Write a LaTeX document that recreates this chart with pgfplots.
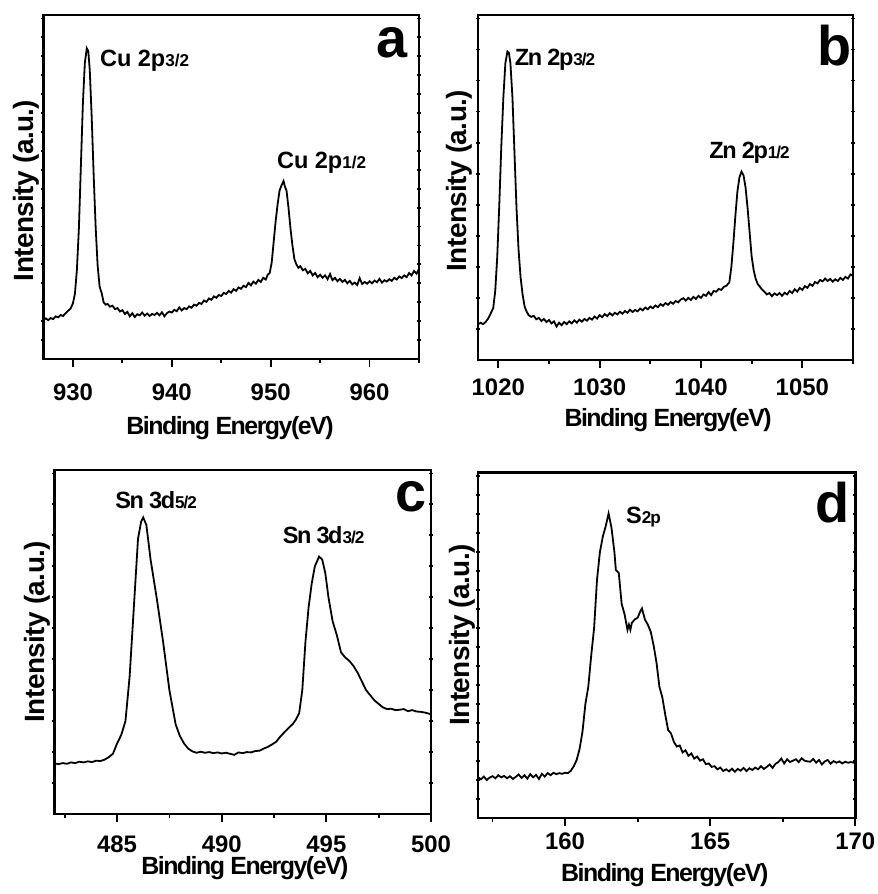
\documentclass[border=0pt]{standalone}
\usepackage{fontspec}
\setmainfont{Liberation Sans}
\newfontfamily\tight[LetterSpace=-6]{Liberation Sans}
\newfontfamily\semitight[LetterSpace=-2]{Liberation Sans}
\usepackage{pgfplots}
\pgfplotsset{compat=1.18}

% shared look of the four XPS panels
\pgfplotsset{
  xps/.style={
    scale only axis, anchor=south west,
    ymin=0, ymax=1,
    axis line style={line width=1.2bp},
    major tick length=4bp, minor tick length=2bp,
    tick style={line width=0.9bp, black},
    xtick align=outside, xtick pos=bottom,
    ytick={2}, ytick align=center, ytick pos=both,
    scaled x ticks=false,
    /pgf/number format/1000 sep={},
    /pgf/number format/assume math mode=true,
    ticklabel style={font=\bfseries\fontsize{12}{12}\selectfont},
    xlabel={Binding Energy(eV)},
    ylabel={Intensity (a.u.)},
    xlabel style={font=\tight\bfseries\fontsize{12.5}{13}\selectfont, anchor=north},
    ylabel style={font=\semitight\bfseries\fontsize{14}{14}\selectfont, anchor=base, inner sep=0pt},
  },
}
\tikzset{
  sp/.style={black, line width=0.9bp, mark=none},
  pk/.style={anchor=base west, inner sep=0pt, font=\bfseries\fontsize{11.8}{12}\selectfont},
  pkt/.style={anchor=base west, inner sep=0pt, font=\tight\bfseries\fontsize{11.8}{12}\selectfont},
  tag/.style={anchor=base east, inner sep=0pt, font=\bfseries\fontsize{28}{28}\selectfont},
}
\newcommand{\lo}[1]{{\fontsize{8.6}{9}\selectfont #1}}

\begin{document}
\begin{tikzpicture}
\path[use as bounding box] (0,0) rectangle (439bp,447bp);

% ---------- a: Cu 2p
\begin{axis}[xps, at={(21.65bp,267.5bp)}, width=187.85bp, height=172bp,
  xmin=927, xmax=965, xtick={930,940,950,960}, minor xtick={935,945,955,965},
  minor ytick={0.055,0.11,...,0.99},
  xticklabel style={yshift=-5bp},
  xlabel style={at={(axis description cs:0.497,-0.148)}},
  ylabel style={at={(axis description cs:-0.027,0.49)}}]
\addplot[sp] coordinates {
(927.0,0.112) (927.25,0.118) (927.5,0.113) (927.75,0.119) (928.0,0.116) (928.25,0.124)
(928.5,0.121) (928.75,0.128) (929.0,0.125) (929.25,0.133) (929.5,0.14) (929.75,0.146)
(930.0,0.162) (930.2,0.19) (930.4,0.26) (930.6,0.38) (930.8,0.56) (931.0,0.74)
(931.2,0.86) (931.4,0.903) (931.55,0.895) (931.7,0.84) (931.9,0.7) (932.1,0.53)
(932.3,0.38) (932.5,0.27) (932.7,0.21) (932.9,0.192) (933.1,0.165) (933.3,0.158)
(933.5,0.16) (933.75,0.152) (934.0,0.155) (934.25,0.145) (934.5,0.148) (934.75,0.138)
(935.0,0.142) (935.25,0.131) (935.5,0.137) (935.75,0.124) (936.0,0.133) (936.25,0.122)
(936.5,0.13) (936.75,0.127) (937.0,0.135) (937.25,0.126) (937.5,0.132) (937.75,0.125)
(938.0,0.131) (938.25,0.128) (938.5,0.134) (938.75,0.127) (939.0,0.136) (939.25,0.124)
(939.5,0.133) (939.75,0.138) (940.0,0.135) (940.25,0.143) (940.5,0.139) (940.75,0.15)
(941.0,0.141) (941.25,0.148) (941.5,0.145) (941.75,0.153) (942.0,0.149) (942.25,0.158)
(942.5,0.155) (942.75,0.163) (943.0,0.16) (943.25,0.17) (943.5,0.166) (943.75,0.176)
(944.0,0.172) (944.25,0.182) (944.5,0.178) (944.75,0.186) (945.0,0.183) (945.25,0.192)
(945.5,0.189) (945.75,0.198) (946.0,0.193) (946.25,0.203) (946.5,0.198) (946.75,0.208)
(947.0,0.204) (947.25,0.213) (947.5,0.209) (947.75,0.221) (948.0,0.214) (948.25,0.225)
(948.5,0.219) (948.75,0.23) (949.0,0.224) (949.25,0.236) (949.5,0.231) (949.7,0.245)
(949.9,0.25) (950.1,0.28) (950.3,0.34) (950.5,0.4) (950.7,0.45) (950.9,0.49)
(951.1,0.505) (951.3,0.517) (951.45,0.5) (951.6,0.49) (951.8,0.44) (952.0,0.38)
(952.2,0.33) (952.4,0.29) (952.6,0.275) (952.8,0.265) (953.0,0.27) (953.25,0.258)
(953.5,0.262) (953.75,0.249) (954.0,0.256) (954.25,0.243) (954.5,0.25) (954.75,0.238)
(955.0,0.245) (955.25,0.236) (955.5,0.243) (955.75,0.232) (956.0,0.247) (956.25,0.229)
(956.5,0.236) (956.75,0.226) (957.0,0.233) (957.25,0.224) (957.5,0.23) (957.75,0.22)
(958.0,0.227) (958.25,0.217) (958.5,0.222) (958.75,0.215) (959.0,0.235) (959.25,0.218)
(959.5,0.224) (959.75,0.219) (960.0,0.226) (960.25,0.22) (960.5,0.228) (960.75,0.223)
(961.0,0.233) (961.25,0.222) (961.5,0.229) (961.75,0.225) (962.0,0.232) (962.25,0.227)
(962.5,0.236) (962.75,0.231) (963.0,0.24) (963.25,0.235) (963.5,0.243) (963.75,0.238)
(964.0,0.25) (964.25,0.243) (964.5,0.256) (964.75,0.248) (965.0,0.262)};
\node[pk] at (axis cs:932.7,0.85) {Cu 2p\lo{3/2}};
\node[pk] at (axis cs:950.6,0.554) {Cu 2p\lo{1/2}};
\node[tag] at (axis description cs:0.97,0.875) {a};
\end{axis}

% ---------- b: Zn 2p
\begin{axis}[xps, at={(239bp,267bp)}, width=187.5bp, height=172.5bp,
  xmin=1018, xmax=1055, xtick={1020,1030,1040,1050}, minor xtick={1025,1035,1045,1055},
  minor ytick={0.09,0.18,...,0.99},
  xticklabel style={yshift=-2bp},
  xlabel style={at={(axis description cs:0.507,-0.12)}},
  ylabel style={at={(axis description cs:-0.032,0.52)}}]
\addplot[sp] coordinates {
(1018.0,0.103) (1018.25,0.108) (1018.5,0.104) (1018.75,0.11) (1019.0,0.12) (1019.25,0.135)
(1019.5,0.15) (1019.7,0.2) (1019.9,0.3) (1020.1,0.45) (1020.3,0.62) (1020.5,0.76)
(1020.7,0.86) (1020.9,0.894) (1021.05,0.89) (1021.2,0.86) (1021.4,0.76) (1021.6,0.6)
(1021.8,0.44) (1022.0,0.32) (1022.2,0.24) (1022.4,0.19) (1022.6,0.155) (1022.8,0.14)
(1023.0,0.13) (1023.25,0.125) (1023.5,0.128) (1023.75,0.118) (1024.0,0.122) (1024.25,0.113)
(1024.5,0.119) (1024.75,0.11) (1025.0,0.116) (1025.25,0.106) (1025.5,0.112) (1025.75,0.097)
(1026.0,0.108) (1026.25,0.101) (1026.5,0.11) (1026.75,0.104) (1027.0,0.112) (1027.25,0.106)
(1027.5,0.115) (1027.75,0.108) (1028.0,0.117) (1028.25,0.111) (1028.5,0.119) (1028.75,0.114)
(1029.0,0.122) (1029.25,0.117) (1029.5,0.126) (1029.75,0.12) (1030.0,0.13) (1030.25,0.124)
(1030.5,0.133) (1030.75,0.127) (1031.0,0.136) (1031.25,0.129) (1031.5,0.137) (1031.75,0.132)
(1032.0,0.14) (1032.25,0.134) (1032.5,0.142) (1032.75,0.137) (1033.0,0.146) (1033.25,0.139)
(1033.5,0.145) (1033.75,0.141) (1034.0,0.149) (1034.25,0.144) (1034.5,0.152) (1034.75,0.147)
(1035.0,0.155) (1035.25,0.15) (1035.5,0.158) (1035.75,0.153) (1036.0,0.162) (1036.25,0.157)
(1036.5,0.165) (1036.75,0.16) (1037.0,0.168) (1037.25,0.163) (1037.5,0.171) (1037.75,0.167)
(1038.0,0.175) (1038.25,0.179) (1038.5,0.172) (1038.75,0.18) (1039.0,0.174) (1039.25,0.183)
(1039.5,0.177) (1039.75,0.186) (1040.0,0.18) (1040.25,0.19) (1040.5,0.186) (1040.75,0.197)
(1041.0,0.188) (1041.25,0.2) (1041.5,0.198) (1041.75,0.206) (1042.0,0.203) (1042.25,0.212)
(1042.5,0.215) (1042.8,0.225) (1043.0,0.27) (1043.2,0.34) (1043.4,0.42) (1043.6,0.49)
(1043.8,0.53) (1044.0,0.546) (1044.2,0.535) (1044.4,0.5) (1044.6,0.44) (1044.8,0.37)
(1045.0,0.3) (1045.2,0.26) (1045.4,0.235) (1045.6,0.22) (1045.8,0.213) (1046.0,0.205)
(1046.25,0.198) (1046.5,0.19) (1046.75,0.194) (1047.0,0.185) (1047.25,0.193) (1047.5,0.188)
(1047.75,0.194) (1048.0,0.186) (1048.25,0.195) (1048.5,0.19) (1048.75,0.2) (1049.0,0.194)
(1049.25,0.205) (1049.5,0.198) (1049.75,0.209) (1050.0,0.203) (1050.25,0.214) (1050.5,0.209)
(1050.75,0.22) (1051.0,0.215) (1051.25,0.226) (1051.5,0.222) (1051.75,0.232) (1052.0,0.228)
(1052.25,0.236) (1052.5,0.229) (1052.75,0.235) (1053.0,0.227) (1053.25,0.234) (1053.5,0.229)
(1053.75,0.238) (1054.0,0.232) (1054.25,0.241) (1054.5,0.236) (1054.75,0.248) (1055.0,0.244)};
\node[pkt] at (axis cs:1021.6,0.855) {Zn 2p\lo{3/2}};
\node[pkt] at (axis cs:1040.8,0.585) {Zn 2p\lo{1/2}};
\node[tag] at (axis description cs:0.997,0.855) {b};
\end{axis}

% ---------- c: Sn 3d
\begin{axis}[xps, at={(27.15bp,40bp)}, width=188.35bp, height=172bp,
  xmin=482, xmax=500, xtick={485,490,495,500}, minor xtick={482.5,487.5,492.5,497.5},
  minor ytick={0.09,0.18,...,0.99},
  xticklabel style={yshift=-3.5bp},
  xlabel style={at={(axis description cs:0.506,-0.103)}},
  ylabel style={at={(axis description cs:-0.025,0.53)}}]
\addplot[sp] coordinates {
(482.0,0.147) (482.2,0.145) (482.4,0.148) (482.6,0.146) (482.8,0.15) (483.0,0.148)
(483.2,0.152) (483.4,0.15) (483.6,0.153) (483.8,0.151) (484.0,0.155) (484.2,0.154)
(484.4,0.158) (484.6,0.165) (484.8,0.175) (485.0,0.205) (485.2,0.23) (485.4,0.27)
(485.6,0.4) (485.8,0.6) (486.0,0.8) (486.15,0.85) (486.25,0.862) (486.4,0.84)
(486.6,0.74) (486.9,0.625) (487.2,0.5) (487.5,0.36) (487.8,0.26) (488.0,0.227)
(488.2,0.205) (488.4,0.19) (488.6,0.182) (488.8,0.178) (489.0,0.181) (489.2,0.178)
(489.4,0.18) (489.6,0.177) (489.8,0.179) (490.0,0.176) (490.2,0.178) (490.4,0.175)
(490.6,0.172) (490.8,0.179) (491.0,0.177) (491.2,0.18) (491.4,0.179) (491.6,0.183)
(491.8,0.184) (492.0,0.19) (492.2,0.195) (492.4,0.202) (492.6,0.21) (492.8,0.225)
(493.0,0.238) (493.2,0.25) (493.4,0.262) (493.55,0.275) (493.7,0.293) (493.85,0.36)
(494.0,0.5) (494.15,0.6) (494.3,0.67) (494.45,0.72) (494.65,0.748) (494.8,0.74)
(494.95,0.7) (495.1,0.63) (495.3,0.56) (495.5,0.52) (495.7,0.47) (495.9,0.455)
(496.1,0.445) (496.3,0.43) (496.5,0.41) (496.7,0.385) (496.9,0.36) (497.1,0.345)
(497.3,0.33) (497.5,0.32) (497.7,0.31) (497.9,0.305) (498.1,0.306) (498.3,0.302)
(498.5,0.303) (498.7,0.305) (498.9,0.299) (499.1,0.302) (499.3,0.298) (499.5,0.297)
(499.7,0.295) (500.0,0.29)};
\node[pkt] at (axis cs:484.9,0.889) {Sn 3d\lo{5/2}};
\node[pkt] at (axis cs:492.9,0.785) {Sn 3d\lo{3/2}};
\node[tag] at (axis description cs:0.989,0.878) {c};
\end{axis}

% ---------- d: S 2p
\begin{axis}[xps, at={(239bp,38bp)}, width=188.65bp, height=172.65bp,
  xmin=157, xmax=170, xtick={160,165,170}, minor xtick={157.5,162.5,167.5},
  minor ytick={0.055,0.11,...,0.99},
  xlabel style={at={(axis description cs:0.495,-0.11)}},
  ylabel style={at={(axis description cs:-0.022,0.53)}}]
\addplot[sp] coordinates {
(157.0,0.118) (157.1,0.112) (157.2,0.12) (157.3,0.11) (157.4,0.117) (157.5,0.121)
(157.6,0.115) (157.7,0.124) (157.8,0.118) (157.9,0.122) (158.0,0.115) (158.1,0.121)
(158.2,0.113) (158.3,0.119) (158.4,0.126) (158.5,0.116) (158.6,0.124) (158.7,0.114)
(158.8,0.127) (158.9,0.118) (159.0,0.125) (159.1,0.113) (159.2,0.128) (159.3,0.12)
(159.4,0.13) (159.5,0.124) (159.6,0.131) (159.7,0.127) (159.8,0.13) (159.9,0.128)
(160.0,0.131) (160.1,0.13) (160.2,0.137) (160.3,0.15) (160.4,0.168) (160.5,0.2)
(160.6,0.25) (160.7,0.33) (160.8,0.38) (160.9,0.47) (161.0,0.55) (161.1,0.69)
(161.2,0.77) (161.3,0.815) (161.4,0.845) (161.5,0.882) (161.6,0.84) (161.7,0.77)
(161.75,0.718) (161.85,0.71) (161.95,0.62) (162.05,0.59) (162.15,0.545) (162.2,0.56)
(162.25,0.545) (162.3,0.565) (162.4,0.575) (162.5,0.58) (162.6,0.6) (162.65,0.607)
(162.75,0.575) (162.85,0.56) (162.95,0.54) (163.05,0.5) (163.15,0.45) (163.25,0.38)
(163.35,0.35) (163.45,0.3) (163.55,0.255) (163.65,0.245) (163.75,0.22) (163.85,0.207)
(163.95,0.21) (164.05,0.19) (164.15,0.196) (164.25,0.18) (164.35,0.187) (164.45,0.172)
(164.55,0.178) (164.65,0.166) (164.75,0.17) (164.85,0.156) (164.95,0.158) (165.05,0.148)
(165.15,0.15) (165.25,0.141) (165.35,0.146) (165.45,0.136) (165.55,0.141) (165.65,0.135)
(165.75,0.143) (165.85,0.134) (165.95,0.142) (166.05,0.137) (166.15,0.145) (166.25,0.136)
(166.35,0.144) (166.45,0.139) (166.55,0.146) (166.65,0.141) (166.75,0.15) (166.85,0.142)
(166.95,0.148) (167.05,0.155) (167.15,0.145) (167.25,0.157) (167.35,0.162) (167.45,0.172)
(167.55,0.158) (167.65,0.17) (167.75,0.162) (167.85,0.166) (167.95,0.17) (168.05,0.162)
(168.15,0.173) (168.25,0.166) (168.35,0.164) (168.45,0.163) (168.55,0.171) (168.65,0.16)
(168.75,0.168) (168.85,0.155) (168.95,0.164) (169.05,0.168) (169.15,0.157) (169.25,0.165)
(169.35,0.16) (169.45,0.164) (169.55,0.158) (169.65,0.163) (169.75,0.16) (169.85,0.162)
(170.0,0.159)};
\node[pkt] at (axis cs:162.09,0.853) {S\lo{2p}};
\node[tag] at (axis description cs:0.986,0.855) {d};
\end{axis}
\end{tikzpicture}
\end{document}
